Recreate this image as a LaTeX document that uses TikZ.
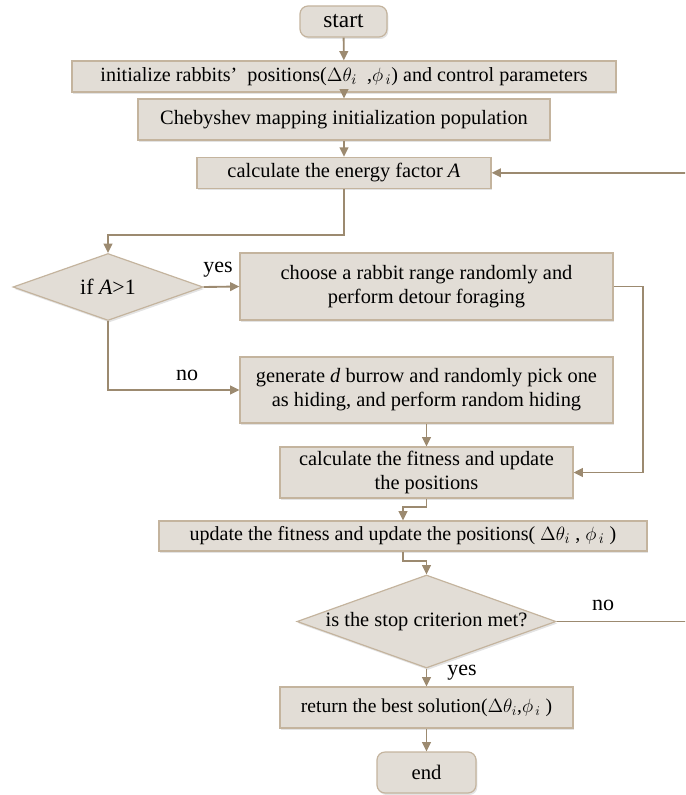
\documentclass[tikz,border=0pt]{standalone}
\usepackage{fontspec}
\setmainfont{Liberation Serif}
\usetikzlibrary{shapes.geometric,arrows.meta,shadows}
\definecolor{boxfill}{RGB}{226,221,214}
\definecolor{boxline}{RGB}{196,180,158}
\definecolor{connc}{RGB}{156,138,112}
\begin{document}
\begin{tikzpicture}[x=0.75pt,y=-0.75pt,
  every node/.style={font=\fontsize{15.3}{18}\selectfont},
  fsz/.style={font=\fontsize{#1}{18}\selectfont},
  base/.style={draw=boxline, fill=boxfill, line width=0.9pt,
    drop shadow={opacity=0.22,shadow xshift=1pt,shadow yshift=-1.5pt},
    inner sep=0pt, align=center},
  proc/.style={base, rectangle},
  term/.style={base, rectangle, rounded corners=6pt},
  dec/.style={base, diamond},
  link/.style={draw=connc, line width=1.4pt, -{Triangle[length=7pt,width=6.5pt]}},
  lab/.style={inner sep=0pt, fsz=16.5}]
\useasboundingbox (0,0) rectangle (685,795);
\clip (0,0) rectangle (685,795);

\node[term, fsz=17.5, minimum width=65.25pt, minimum height=23.25pt] (start) at (343.5,21.5) {start};
\node[proc, fsz=15.1, minimum width=408pt, minimum height=23.25pt] (init) at (344,76.5)
  {initialize rabbits’\ \ positions($\Delta\theta_i$\ \ ,$\phi_{\,i}$) and control parameters};
\node[proc, minimum width=309pt, minimum height=30.75pt] (cheb) at (344,119.5)
  {Chebyshev mapping initialization population};
\node[proc, minimum width=220.5pt, minimum height=23.25pt] (energy) at (344,172.8)
  {calculate the energy factor \textit{A}};
\node[dec, fsz=16.4, aspect=2.84, minimum width=142.5pt, minimum height=50.25pt] (d1) at (108,287) {if \textit{A}>1};
\node[proc, minimum width=279.75pt, minimum height=50.25pt] (choose) at (426.5,286.5)
  {choose a rabbit range randomly and\\ perform detour foraging};
\node[proc, minimum width=279.75pt, minimum height=49.5pt] (gen) at (426.5,390)
  {generate \textit{d} burrow and randomly pick one\\ as hiding, and perform random hiding};
\node[proc, minimum width=219.75pt, minimum height=38.25pt] (fit) at (426.5,472.5)
  {calculate the fitness and update\\ the positions};
\node[proc, fsz=15, minimum width=366pt, minimum height=22.5pt] (upd) at (403,536)
  {update the fitness and update the positions( $\Delta\theta_i$ , $\phi_{\,i}$ )};
\node[dec, aspect=2.78, minimum width=194.25pt, minimum height=69.75pt] (d2) at (426.5,621.5)
  {is the stop criterion met?};
\node[proc, fsz=14.7, minimum width=219.75pt, minimum height=30.75pt] (ret) at (426.5,707.5)
  {return the best solution($\Delta\theta_i$,$\phi_{\,i}$ )};
\node[term, fsz=15.5, minimum width=74.25pt, minimum height=30.75pt] (end) at (426.5,772.5) {end};

\coordinate (c1) at (344,235);
\coordinate (c2) at (108,235);
\coordinate (c3) at (108,390);
\coordinate (c4) at (643,286.5);
\coordinate (c5) at (643,472.5);
\coordinate (c6) at (426.5,507);
\coordinate (c7) at (403,507);
\coordinate (c8) at (403,561);
\coordinate (c9) at (426.5,561);
\coordinate (c10) at (692,621.5);
\coordinate (c11) at (692,172.8);

\draw[link] (start) -- (init);
\draw[link] (init) -- (cheb);
\draw[link] (cheb) -- (energy);
\draw[link] (energy.south) -- (c1) -- (c2) -- (d1.north);
\draw[link] (d1.east) -- (choose.west);
\draw[link] (d1.south) -- (c3) -- (gen.west);
\draw[link] (choose.east) -- (c4) -- (c5) -- (fit.east);
\draw[link] (gen) -- (fit);
\draw[link] (fit.south -| c6) -- (c6) -- (c7) -- (upd.north -| c7);
\draw[link] (upd.south -| c8) -- (c8) -- (c9) -- (d2.north);
\draw[link] (d2.east) -- (c10) -- (c11) -- (energy.east);
\draw[link] (d2.south) -- (ret.north);
\draw[link] (ret) -- (end);

\node[lab] (yes1) at (218,270) {yes};
\node[lab] (no1) at (187,375) {no};
\node[lab] (no2) at (603,605) {no};
\node[lab] (yes2) at (462,673) {yes};
\end{tikzpicture}
\end{document}
